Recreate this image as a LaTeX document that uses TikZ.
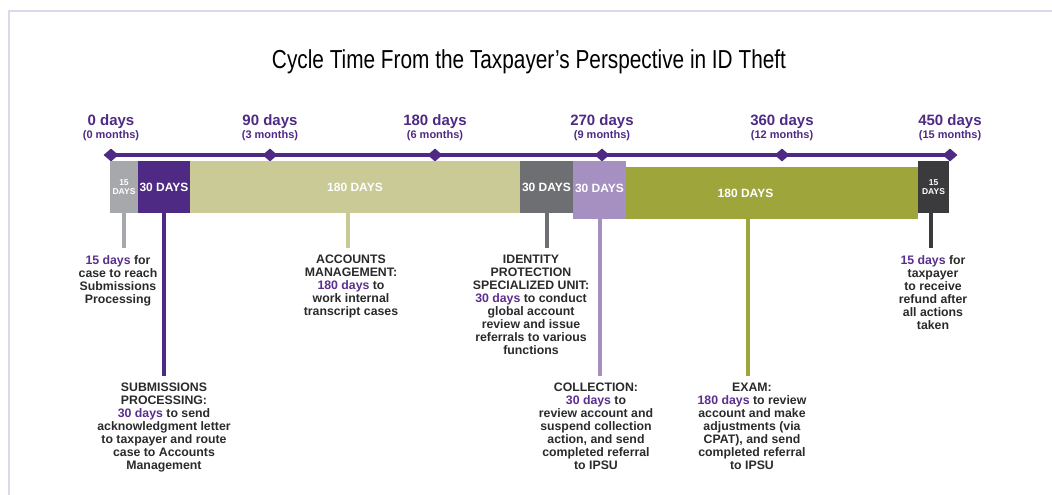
\documentclass[tikz,border=0pt]{standalone}
\usepackage{fontspec}
\setmainfont{Liberation Sans}
\newfontfamily\titlefont[FakeStretch=0.8]{Liberation Sans}
\usetikzlibrary{shapes.geometric}
\definecolor{tlpurple}{HTML}{4E2A84}
\definecolor{hlpurple}{HTML}{5B2D8E}
\definecolor{lgray}{HTML}{A7A8AB}
\definecolor{khaki}{HTML}{C9CA95}
\definecolor{midgray}{HTML}{6E6F72}
\definecolor{lavender}{HTML}{A690C1}
\definecolor{olive}{HTML}{9DA53B}
\definecolor{darkgray}{HTML}{3B3B3D}
\definecolor{txtgray}{HTML}{2A2A2C}
\definecolor{framec}{HTML}{DCD8EE}
\newcommand{\dayhl}[1]{\textcolor{hlpurple}{#1}}
\begin{document}
\begin{tikzpicture}[x=1pt,y=-1pt,
    tick/.style={diamond,fill=tlpurple,inner sep=0pt,minimum width=15pt,minimum height=13pt},
    daylbl/.style={text=tlpurple,anchor=base,font=\bfseries\fontsize{15}{15}\selectfont},
    monlbl/.style={text=tlpurple,anchor=base,font=\bfseries\fontsize{11}{12}\selectfont},
    bar/.style={inner sep=0pt,text=white,align=center,font=\bfseries\fontsize{12}{12}\selectfont},
    smallbar/.style={bar,font=\bfseries\fontsize{8.5}{9}\selectfont},
    lead/.style={line width=4pt,shorten >=7pt},
    info/.style={anchor=north,align=center,inner sep=0pt,text=txtgray,font=\bfseries\fontsize{12.3}{13}\selectfont}]
    \useasboundingbox (0,0) rectangle (1052,495);
    \draw[framec,line width=2pt] (8.5,495) -- (8.5,11) -- (1052,11);
    \node[anchor=base,text=black,font=\titlefont\fontsize{26}{26}\selectfont] (title) at (529,68) {Cycle Time From the Taxpayer’s Perspective in ID Theft};
    % time axis
    \foreach \x/\d/\m in {111/0/0,270/90/3,435/180/6,602/270/9,782/360/12,950/450/15}{
        \node[tick] (d\d) at (\x,155) {};
        \node[daylbl] (l\d) at (\x,125) {\d\ days};
        \node[monlbl] (m\d) at (\x,138) {(\m\ months)};
    }
    \draw[tlpurple,line width=4.5pt] (d0.center) -- (d450.center);
    % bars
    \node[smallbar,fill=lgray,minimum width=28pt,minimum height=52pt] (recv) at (124,187) {15\\DAYS};
    \node[bar,fill=tlpurple,minimum width=52pt,minimum height=52pt] (subm) at (164,187) {30 DAYS};
    \node[bar,fill=khaki,minimum width=330pt,minimum height=52pt] (acct) at (355,187) {180 DAYS};
    \node[bar,fill=midgray,minimum width=53pt,minimum height=52pt] (ipsu) at (546.5,187) {30 DAYS};
    \node[bar,fill=olive,minimum width=345pt,minimum height=52pt] (exam) at (745.5,193) {180 DAYS};
    \node[bar,fill=lavender,minimum width=53pt,minimum height=58pt] (coll) at (599.5,190) {\raisebox{3pt}{30 DAYS}};
    \node[smallbar,fill=darkgray,minimum width=31pt,minimum height=52pt] (refund) at (933.5,187) {15\\DAYS};
    % texts
    \node[info] (recvtxt) at (118,255) {\dayhl{15 days} for\\case to reach\\Submissions\\Processing};
    \node[info] (accttxt) at (351,255) {ACCOUNTS\\MANAGEMENT:\\\dayhl{180 days} to\\work internal\\transcript cases};
    \node[info] (ipsutxt) at (531,255) {IDENTITY\\PROTECTION\\SPECIALIZED UNIT:\\\dayhl{30 days} to conduct\\global account\\review and issue\\referrals to various\\functions};
    \node[info] (refundtxt) at (933,255) {\dayhl{15 days} for\\taxpayer\\to receive\\refund after\\all actions\\taken};
    \node[info] (submtxt) at (164,383) {SUBMISSIONS\\PROCESSING:\\\dayhl{30 days} to send\\acknowledgment letter\\to taxpayer and route\\case to Accounts\\Management};
    \node[info] (colltxt) at (596,383) {COLLECTION:\\\dayhl{30 days} to\\review account and\\suspend collection\\action, and send\\completed referral\\to IPSU};
    \node[info] (examtxt) at (752,383) {EXAM:\\\dayhl{180 days} to review\\account and make\\adjustments (via\\CPAT), and send\\completed referral\\to IPSU};
    % leads
    \draw[lead,lgray] (recv.south) -- (recv.south |- recvtxt.north);
    \draw[lead,tlpurple] (subm.south) -- (subm.south |- submtxt.north);
    \draw[lead,khaki] (acct.south) ++(-7,0) coordinate (acctl) -- (acctl |- accttxt.north);
    \draw[lead,midgray] (ipsu.south) -- (ipsu.south |- ipsutxt.north);
    \draw[lead,lavender] (coll.south) -- (coll.south |- colltxt.north);
    \draw[lead,olive] (exam.south) ++(2.5,0) coordinate (examl) -- (examl |- examtxt.north);
    \draw[lead,darkgray] (refund.south) ++(-3,0) coordinate (refundl) -- (refundl |- refundtxt.north);
\end{tikzpicture}
\end{document}
